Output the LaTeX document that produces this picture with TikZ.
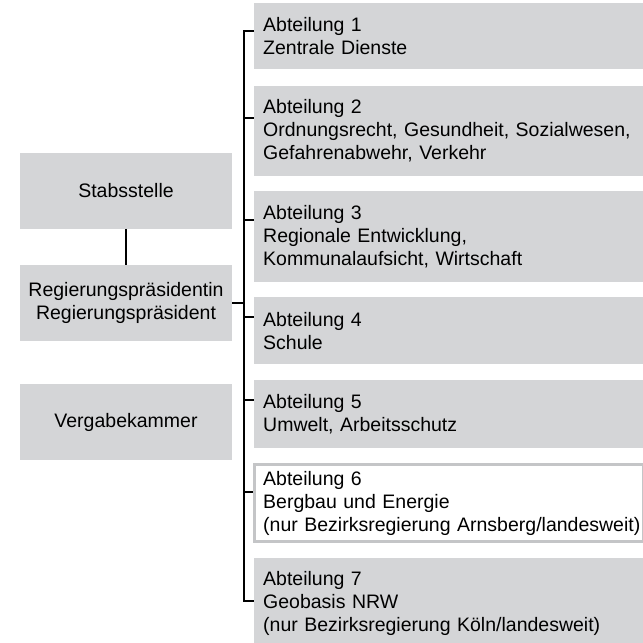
\documentclass[tikz,border=0pt]{standalone}
\usepackage{fontspec}
\setmainfont{Liberation Sans}
\usetikzlibrary{positioning}
\definecolor{boxgray}{RGB}{212,213,215}
\definecolor{framegray}{RGB}{196,197,199}
\newcommand{\orgfont}{\fontsize{19.5pt}{23pt}\selectfont}
\tikzset{basic/.style={fill=boxgray,font=\orgfont}}
\tikzset{stelle/.style={basic,minimum width=212pt,minimum height=76pt,align=center,inner sep=0pt}}
\tikzset{abt/.style={basic,text width=371pt,align=left,inner xsep=9pt,inner ysep=0pt}}
\tikzset{abtframe/.style={abt,fill=white,draw=framegray,line width=3pt}}
\tikzset{link/.style={draw,line width=2pt}}

\begin{document}
\begin{tikzpicture}[x=1pt,y=1pt]
	\useasboundingbox (0,0) rectangle (643,-643);
	% left column
	\node[stelle] (rp) at (126,-303) {Regierungspräsidentin\\Regierungspräsident};
	\node[stelle,above=36pt of rp] (stab) {Stabsstelle};
	\node[stelle,below=43pt of rp] (vk) {Vergabekammer};
	\draw[link] (stab) -- (rp);
	% right column
	\node[abt,minimum height=66pt,anchor=north west] (a1) at (254,-3) {Abteilung 1\\Zentrale Dienste};
	\node[abt,minimum height=90pt,below=16pt of a1] (a2) {Abteilung 2\\Ordnungsrecht, Gesundheit, Sozialwesen,\\Gefahrenabwehr, Verkehr};
	\node[abt,minimum height=91pt,below=15pt of a2] (a3) {Abteilung 3\\Regionale Entwicklung,\\Kommunalaufsicht, Wirtschaft};
	\node[abt,minimum height=67pt,below=15pt of a3] (a4) {Abteilung 4\\Schule};
	\node[abt,minimum height=68pt,below=15pt of a4] (a5) {Abteilung 5\\Umwelt, Arbeitsschutz};
	\node[abtframe,minimum height=77pt,below=15pt of a5] (a6) {Abteilung 6\\Bergbau und Energie\\\mbox{(nur Bezirksregierung Arnsberg/landesweit)}};
	\node[abt,minimum height=90pt,below=15pt of a6] (a7) {Abteilung 7\\Geobasis NRW\\(nur Bezirksregierung Köln/landesweit)};
	% bus
	\coordinate (t1) at (244,-31);
	\coordinate (t2) at (244,-118);
	\coordinate (t3) at (244,-220);
	\coordinate (t4) at (244,-317);
	\coordinate (t5) at (244,-400);
	\coordinate (t6) at (244,-492);
	\coordinate (t7) at (244,-601);
	\draw[link] (a1.west |- t1) -- (t1) -- (t7) -- (a7.west |- t7);
	\foreach \n in {2,...,6}
		\draw[link] (t\n) -- (a\n.west |- t\n);
	\draw[link] (rp) -- (rp -| t1);
\end{tikzpicture}
\end{document}
